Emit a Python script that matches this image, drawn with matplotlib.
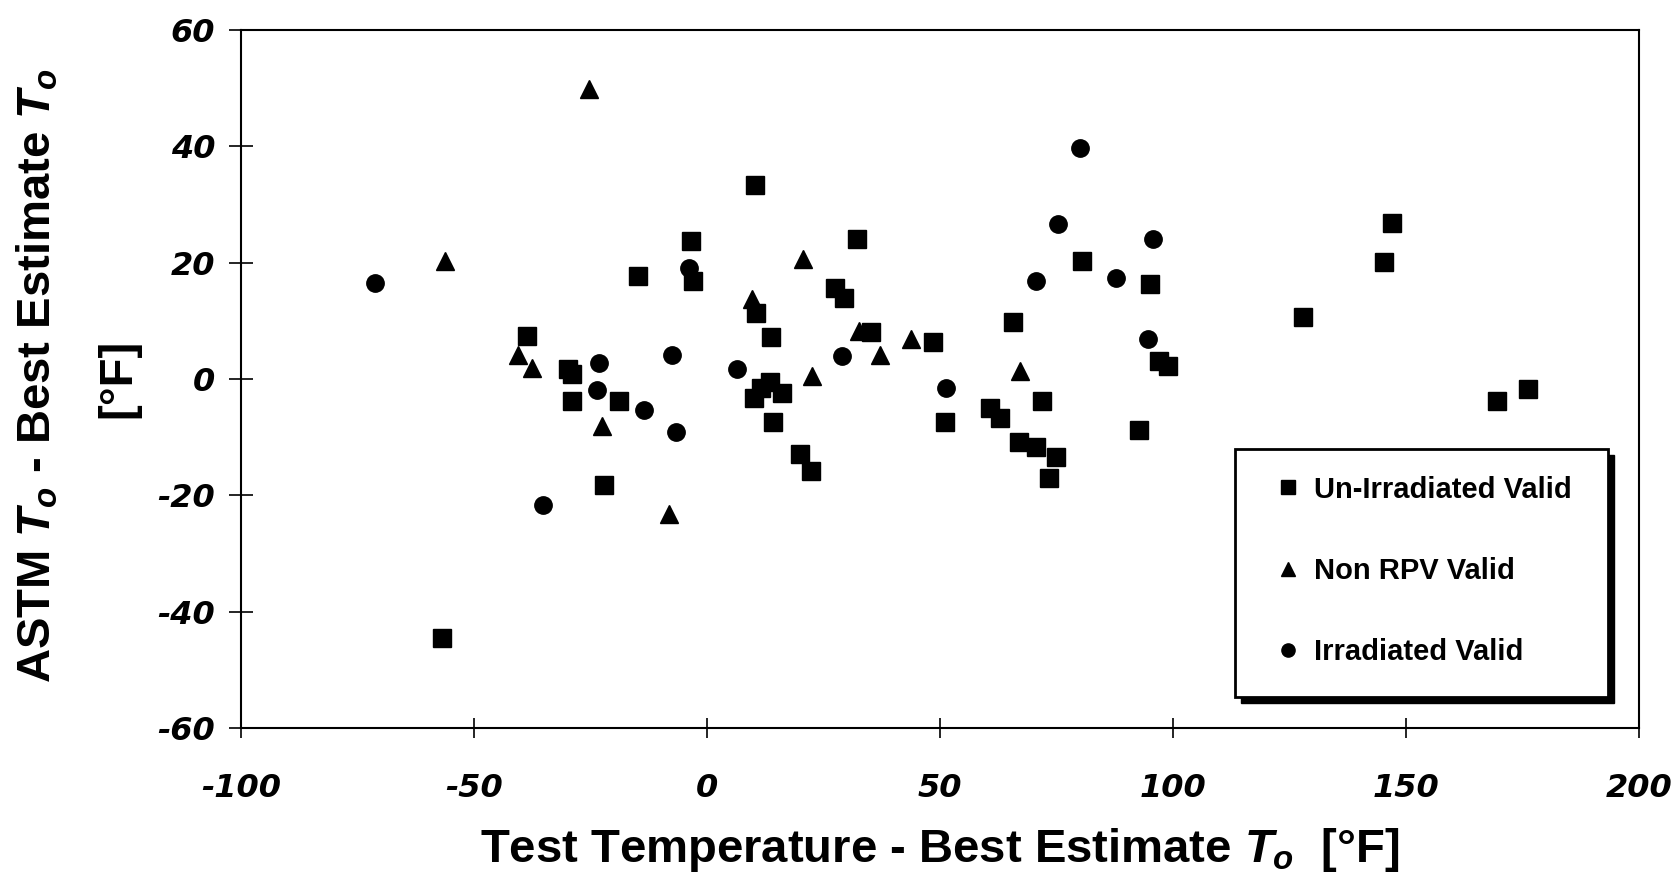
import matplotlib
matplotlib.use('Agg')
import matplotlib.pyplot as plt
from matplotlib.patches import Rectangle
from matplotlib.lines import Line2D

# values, deg F
# x = Test Temperature - Best Estimate To, y = ASTM To - Best Estimate To
unirr_x = [-56.8, -38.7, -29.9, -28.9, -29.0, -18.9, -22.2, -14.7, -3.4, -2.9,
           10.3, 10.6, 13.8, 10.0, 11.5, 13.6, 16.1, 14.2, 19.9, 22.4,
           27.5, 29.5, 32.2, 35.3, 48.5, 51.0, 60.8, 62.9, 65.6, 67.0,
           70.6, 71.8, 74.9, 73.3, 80.4, 92.7, 95.1, 97.1, 98.9, 127.9,
           145.2, 146.9, 169.6, 176.1]
unirr_y = [-44.5, 7.4, 1.7, 0.8, -3.7, -3.7, -18.2, 17.7, 23.8, 16.9,
           33.4, 11.4, 7.3, -3.2, -1.5, -0.6, -2.4, -7.4, -12.9, -15.8,
           15.6, 14.0, 24.0, 8.1, 6.4, -7.4, -5.0, -6.7, 9.8, -10.8,
           -11.7, -3.8, -13.4, -17.1, 20.3, -8.8, 16.4, 3.1, 2.2, 10.6,
           20.1, 26.9, -3.8, -1.7]

nonrpv_x = [-25.3, -56.3, -40.5, -37.6, -22.6, -8.2, 9.7, 20.6, 22.6, 32.6,
            37.1, 43.7, 67.2]
nonrpv_y = [49.9, 20.3, 4.2, 1.9, -8.1, -23.2, 13.7, 20.6, 0.5, 8.3,
            4.2, 6.8, 1.4]

irr_x = [-71.3, -23.1, -7.5, -3.8, -23.7, -13.6, -6.7, -35.3, 6.5, 29.0,
         51.3, 70.5, 75.3, 80.1, 87.8, 94.6, 95.7]
irr_y = [16.5, 2.8, 4.1, 19.0, -1.9, -5.4, -9.1, -21.7, 1.8, 4.0,
         -1.5, 16.9, 26.6, 39.7, 17.3, 6.8, 24.0]

labels = ['Un-Irradiated Valid', 'Non RPV Valid', 'Irradiated Valid']

plt.rcParams['font.family'] = 'Liberation Sans'
plt.rcParams['font.weight'] = 'bold'
plt.rcParams['axes.unicode_minus'] = False
plt.rcParams['mathtext.fontset'] = 'custom'
plt.rcParams['mathtext.it'] = 'Liberation Sans:italic:bold'
plt.rcParams['mathtext.rm'] = 'Liberation Sans:bold'

W, H = 1677, 880
fig = plt.figure(figsize=(W / 100, H / 100), dpi=100)
ax = fig.add_axes([241 / W, 1 - 728 / H, (1639 - 241) / W, (728 - 30) / H])

ms = 12.5
ax.plot(unirr_x, unirr_y, 's', color='black', ms=ms, mec='black')
ax.plot(nonrpv_x, nonrpv_y, '^', color='black', ms=ms, mec='black')
ax.plot(irr_x, irr_y, 'o', color='black', ms=ms, mec='black')

ax.set_xlim(-100, 200)
ax.set_ylim(-60, 60)
ax.set_xticks(range(-100, 201, 50))
ax.set_yticks(range(-60, 61, 20))
for s in ax.spines.values():
    s.set_linewidth(1.5)
ax.tick_params(axis='both', direction='inout', width=1.2, labelsize=23)
ax.tick_params(axis='x', length=15, pad=25)
ax.tick_params(axis='y', length=17, pad=10)
for lab in ax.get_xticklabels() + ax.get_yticklabels():
    lab.set_family('DejaVu Sans')
    lab.set_fontstyle('italic')
    lab.set_fontweight('bold')

fig.text(940 / W, 1 - 850 / H, 'Test Temperature - Best Estimate $T_o$  [°F]',
         ha='center', va='center', fontsize=34, fontweight='bold')
fig.text(38 / W, 1 - 376 / H, 'ASTM $T_o$ - Best Estimate $T_o$',
         ha='center', va='center', rotation=90, fontsize=34, fontweight='bold')
fig.text(118 / W, 1 - 378 / H, '[°F]',
         ha='center', va='center', rotation=90, fontsize=34, fontweight='bold')

# legend box with hard black shadow
bx0, by0, bx1, by1 = 1235, 449, 1608, 697
fig.add_artist(Rectangle(((bx0 + 6) / W, 1 - (by1 + 6) / H), (bx1 - bx0) / W, (by1 - by0) / H,
                         transform=fig.transFigure, facecolor='black', edgecolor='black', zorder=5))
fig.add_artist(Rectangle((bx0 / W, 1 - by1 / H), (bx1 - bx0) / W, (by1 - by0) / H,
                         transform=fig.transFigure, facecolor='white', edgecolor='black',
                         linewidth=2, zorder=6))
handles = [Line2D([], [], ls='none', marker=m, color='black', ms=9.5) for m in ['s', '^', 'o']]
leg = fig.legend(handles, labels, loc='center left', bbox_to_anchor=(1276 / W, 1 - 571 / H),
                 frameon=False, fontsize=21, handlelength=0.85, handletextpad=0.45,
                 labelspacing=1.83, borderpad=0, borderaxespad=0)
leg.set_zorder(7)
for t in leg.get_texts():
    t.set_fontweight('bold')

fig.savefig('out.png', dpi=100)
